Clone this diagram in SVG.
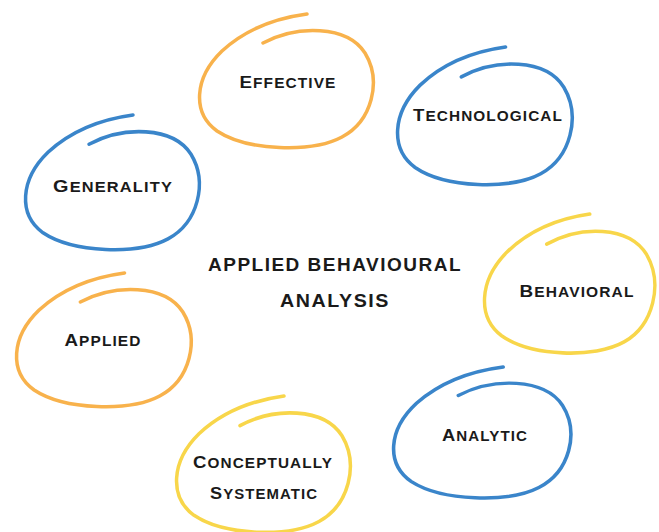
<svg xmlns="http://www.w3.org/2000/svg" width="659" height="532" viewBox="0 0 659 532">
<style>
.ring{fill:none;stroke-width:3.5;stroke-linecap:round;stroke-linejoin:round}
.orange{stroke:#F8B24C}
.blue{stroke:#3A85CA}
.yellow{stroke:#F8D64A}
.lbl{font-family:"Liberation Sans",Arial,sans-serif;font-weight:bold;fill:#1a1a1a;text-anchor:middle;letter-spacing:1px}
.big{font-size:17px}
.sm{font-size:14px}
.title{font-family:"Liberation Sans",Arial,sans-serif;font-weight:bold;font-size:19px;fill:#1a1a1a;text-anchor:middle;letter-spacing:1.5px}
</style>
<defs>
<path id="loop" d="M66,30 C100,12 150,12 168,40 C185,68 175,108 145,124 C115,140 50,138 20,118 C-5,100 -3,65 25,38 C50,15 80,5 110,1"/>
</defs>
<rect width="659" height="532" fill="#ffffff"/>
<g id="connectors"></g>
<g id="node-effective">
<use href="#loop" class="ring orange" transform="translate(197,13)"/>
<text class="lbl" x="288" y="88" textLength="97" lengthAdjust="spacingAndGlyphs"><tspan class="big">E</tspan><tspan class="sm">FFECTIVE</tspan></text>
</g>
<g id="node-technological">
<use href="#loop" class="ring blue" transform="translate(395,46) scale(1.005,1.03)"/>
<text class="lbl" x="488" y="121" textLength="150" lengthAdjust="spacingAndGlyphs"><tspan class="big">T</tspan><tspan class="sm">ECHNOLOGICAL</tspan></text>
</g>
<g id="node-generality">
<use href="#loop" class="ring blue" transform="translate(23,114) scale(1,1.007)"/>
<text class="lbl" x="113" y="192" textLength="120" lengthAdjust="spacingAndGlyphs"><tspan class="big">G</tspan><tspan class="sm">ENERALITY</tspan></text>
</g>
<g id="node-behavioral">
<use href="#loop" class="ring yellow" transform="translate(482,213) scale(0.98,1.04)"/>
<text class="lbl" x="577" y="297" textLength="115" lengthAdjust="spacingAndGlyphs"><tspan class="big">B</tspan><tspan class="sm">EHAVIORAL</tspan></text>
</g>
<g id="node-applied">
<use href="#loop" class="ring orange" transform="translate(14,272) scale(1.005,1)"/>
<text class="lbl" x="103" y="346" textLength="77" lengthAdjust="spacingAndGlyphs"><tspan class="big">A</tspan><tspan class="sm">PPLIED</tspan></text>
</g>
<g id="node-analytic">
<use href="#loop" class="ring blue" transform="translate(391,366) scale(1.02,0.98)"/>
<text class="lbl" x="485" y="441" textLength="86" lengthAdjust="spacingAndGlyphs"><tspan class="big">A</tspan><tspan class="sm">NALYTIC</tspan></text>
</g>
<g id="node-conceptually-systematic">
<use href="#loop" class="ring yellow" transform="translate(174,395) scale(1,1.02)"/>
<text class="lbl" x="263" y="468" textLength="140" lengthAdjust="spacingAndGlyphs"><tspan class="big">C</tspan><tspan class="sm">ONCEPTUALLY</tspan></text>
<text class="lbl" x="264" y="499" textLength="108" lengthAdjust="spacingAndGlyphs"><tspan class="big">S</tspan><tspan class="sm">YSTEMATIC</tspan></text>
</g>
<g id="node-title">
<text class="title" x="335" y="271" textLength="254" lengthAdjust="spacingAndGlyphs">APPLIED BEHAVIOURAL</text>
<text class="title" x="335" y="307" textLength="110" lengthAdjust="spacingAndGlyphs">ANALYSIS</text>
</g>
</svg>
